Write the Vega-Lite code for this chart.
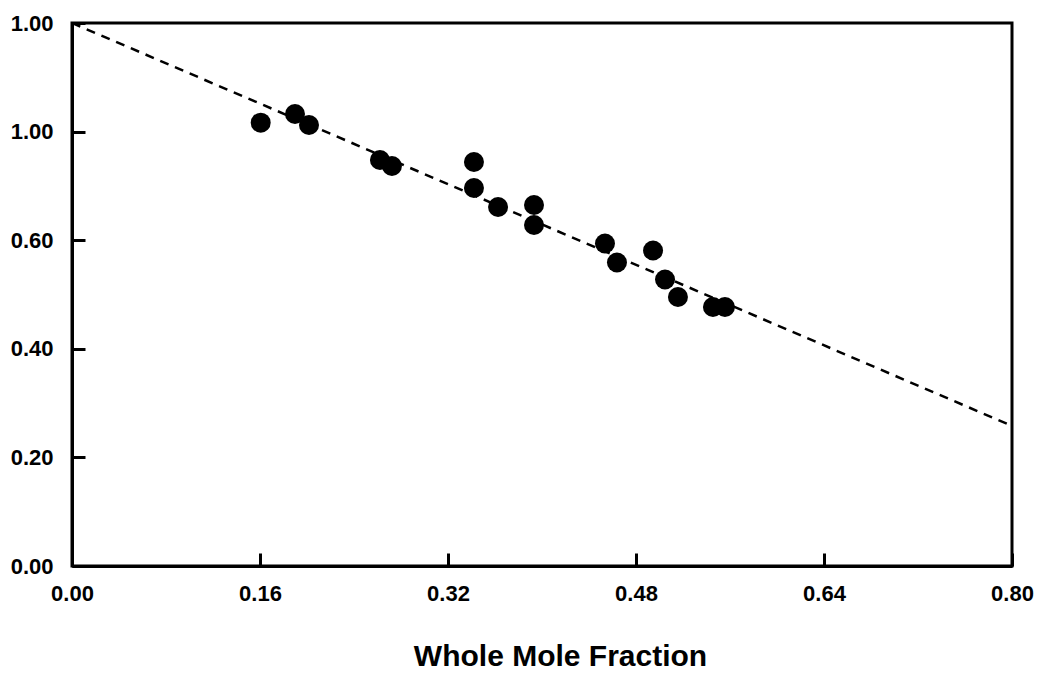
{
  "$schema": "https://vega.github.io/schema/vega-lite/v6.json",
  "autosize": {"type": "none"},
  "width": 940,
  "height": 543,
  "padding": {"left": 72, "top": 23, "right": 26, "bottom": 111},
  "background": "white",
  "config": {
    "view": {"stroke": "black", "strokeWidth": 3},
    "font": "Liberation Sans",
    "axis": {
      "domainColor": "black",
      "domainWidth": 3,
      "tickColor": "black",
      "tickWidth": 3,
      "tickSize": -13,
      "grid": false,
      "labelFlush": false,
      "labelFont": "Liberation Sans",
      "labelFontWeight": "bold",
      "labelFontSize": 22,
      "labelColor": "black",
      "titleFont": "Liberation Sans",
      "titleFontWeight": "bold",
      "titleColor": "black"
    }
  },
  "datasets": {
    "points": [
      {"fraction": 0.1606, "value": 0.8164},
      {"fraction": 0.1898, "value": 0.8324},
      {"fraction": 0.2017, "value": 0.8122},
      {"fraction": 0.2621, "value": 0.7477},
      {"fraction": 0.2723, "value": 0.7366},
      {"fraction": 0.3421, "value": 0.7440},
      {"fraction": 0.3421, "value": 0.6961},
      {"fraction": 0.3626, "value": 0.6611},
      {"fraction": 0.3932, "value": 0.6648},
      {"fraction": 0.3932, "value": 0.6280},
      {"fraction": 0.4536, "value": 0.5939},
      {"fraction": 0.4638, "value": 0.5589},
      {"fraction": 0.4945, "value": 0.5810},
      {"fraction": 0.5047, "value": 0.5276},
      {"fraction": 0.5157, "value": 0.4954},
      {"fraction": 0.5455, "value": 0.4770},
      {"fraction": 0.5557, "value": 0.4770}
    ],
    "fit": [
      {"fraction": 0.0, "value": 1.0},
      {"fraction": 0.8, "value": 0.258}
    ]
  },
  "layer": [
    {
      "data": {"name": "fit"},
      "mark": {"type": "line", "color": "black", "strokeWidth": 2.5, "strokeDash": [9, 7], "clip": true},
      "encoding": {
        "x": {
          "field": "fraction", "type": "quantitative",
          "scale": {"domain": [0, 0.8], "nice": false, "zero": false},
          "axis": {
            "values": [0, 0.16, 0.32, 0.48, 0.64, 0.8],
            "format": ".2f",
            "labelPadding": 30,
            "title": "Whole Mole Fraction",
            "titleFontSize": 30,
            "titleAnchor": "start",
            "titleAlign": "center",
            "titleX": 488,
            "titleY": 99,
            "titleBaseline": "alphabetic"
          }
        },
        "y": {
          "field": "value", "type": "quantitative",
          "scale": {"domain": [0, 1], "nice": false, "zero": false},
          "axis": {
            "values": [0, 0.2, 0.4, 0.6, 0.8, 1.0],
            "labelExpr": "datum.value == 0.8 ? '1.00' : format(datum.value, '.2f')",
            "labelPadding": 32,
            "title": null
          }
        }
      }
    },
    {
      "data": {"name": "points"},
      "mark": {"type": "point", "shape": "circle", "filled": true, "color": "black", "opacity": 1, "size": 400},
      "encoding": {
        "x": {"field": "fraction", "type": "quantitative"},
        "y": {"field": "value", "type": "quantitative"}
      }
    }
  ]
}
